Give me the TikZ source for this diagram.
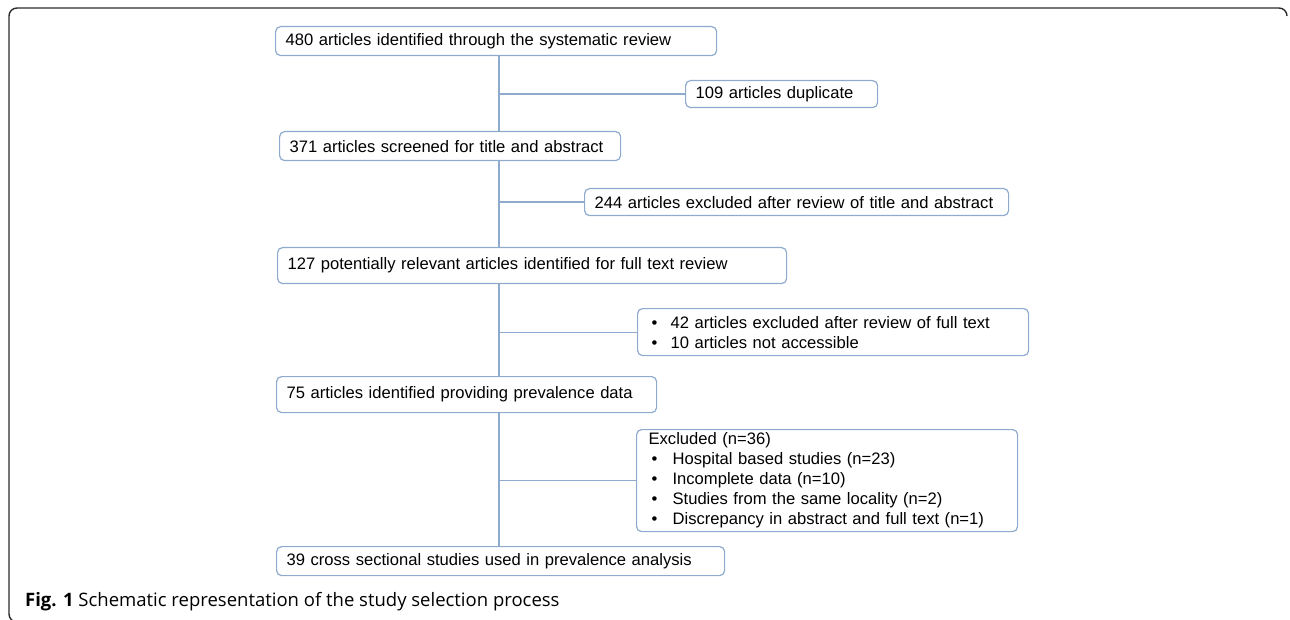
\documentclass[tikz,border=0pt]{standalone}
\usepackage{fontspec}
\setmainfont{Liberation Sans}
\newfontfamily\capfont{Open Sans}
\usetikzlibrary{calc}
\definecolor{mBoxBlue}{HTML}{8EAACC}
\definecolor{mFrame}{HTML}{2B2B2B}
\newcommand{\boxfont}{\fontsize{16.6}{20}\selectfont\hyphenpenalty10000\relax}
\newcommand{\bul}{\makebox[19pt][l]{\textbullet}}

\begin{document}
\begin{tikzpicture}[x=1pt, y=-1pt,
    stage/.style={draw=mBoxBlue, line width=1.2pt, rounded corners=5pt, anchor=north west,
      inner xsep=10pt, inner ysep=0pt, align=left, font=\boxfont},
    link/.style={draw=mBoxBlue, line width=1.2pt}]
    \useasboundingbox (0,0) rectangle (1290,620);
    \draw[mFrame, line width=1.4pt, rounded corners=8pt] (16,622) -- (9,622) -- (9,8) -- (1287,8) -- (1287,16);
    \node[stage, text width=421pt, minimum height=29pt] (b480) at (275,26) {480 articles identified through the systematic review};
    \node[stage, text width=172pt, minimum height=27pt] (b109) at (685,80) {109 articles duplicate};
    \node[stage, text width=321pt, minimum height=29pt] (b371) at (279,131) {371 articles screened for title and abstract};
    \node[stage, text width=404pt, minimum height=27pt] (b244) at (584,188) {244 articles excluded after review of title and abstract};
    \node[stage, text width=489pt, minimum height=36pt] (b127) at (277,247) {127 potentially relevant articles identified for full text review};
    \node[stage, text width=363pt, minimum height=47pt, inner xsep=14pt] (b42) at (637,308) {\bul 42 articles excluded after review of full text\\ \bul 10 articles not accessible};
    \node[stage, text width=360pt, minimum height=36pt] (b75) at (276,376) {75 articles identified providing prevalence data};
    \node[stage, text width=357pt, minimum height=102pt, inner xsep=12pt] (bex) at (636,429) {Excluded (n=36)\\
      \hspace*{3pt}\makebox[21pt][l]{\textbullet}Hospital based studies (n=23)\\
      \hspace*{3pt}\makebox[21pt][l]{\textbullet}Incomplete data (n=10)\\
      \hspace*{3pt}\makebox[21pt][l]{\textbullet}Studies from the same locality (n=2)\\
      \hspace*{3pt}\makebox[21pt][l]{\textbullet}Discrepancy in abstract and full text (n=1)};
    \node[stage, text width=428pt, minimum height=29pt] (b39) at (276,546) {39 cross sectional studies used in prevalence analysis};
    \coordinate (spine) at (499,0);
    \draw[link] (b480.south -| spine) -- (b371.north -| spine);
    \draw[link] (b371.south -| spine) -- (b127.north -| spine);
    \draw[link] (b127.south -| spine) -- (b75.north -| spine);
    \draw[link] (b75.south -| spine) -- (b39.north -| spine);
    \draw[link] (spine |- b109.west) -- (b109.west);
    \draw[link] (spine |- b244.west) -- (b244.west);
    \draw[link] (spine |- b42.west) -- (b42.west);
    \draw[link] (spine |- bex.west) -- (bex.west);
    \node[anchor=west, inner sep=0pt, font=\capfont\fontsize{18.5}{22}\selectfont] (cap) at (25,602) {\textbf{Fig. 1} Schematic representation of the study selection process};
\end{tikzpicture}
\end{document}
